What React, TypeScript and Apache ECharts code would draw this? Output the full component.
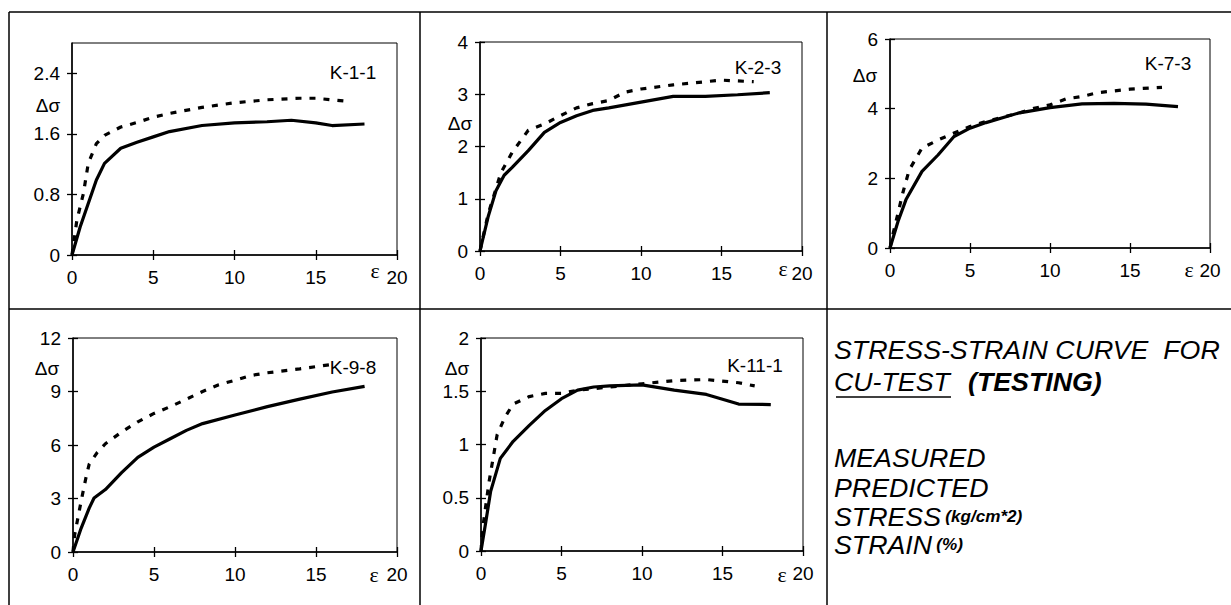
import React, { useEffect, useRef } from "react";
import * as echarts from "echarts";

// ---------- data ----------
const X_TICKS = [0, 5, 10, 15, 20];
const PANEL_NAMES = ["K-1-1", "K-2-3", "K-7-3", "K-9-8", "K-11-1"];
const Y_MAX = [2.8, 4, 6, 12, 2];
const Y_STEP = [0.8, 1, 2, 3, 0.5];
const Y_TICKS_1 = [0, 0.8, 1.6, 2.4];
const Y_TICKS_2 = [0, 1, 2, 3, 4];
const Y_TICKS_3 = [0, 2, 4, 6];
const Y_TICKS_4 = [0, 3, 6, 9, 12];
const Y_TICKS_5 = [0, 0.5, 1, 1.5, 2];

// K-1-1
const P1_MEAS_STRAIN = [0, 0.5, 1, 1.5, 2, 3, 4, 5, 6, 8, 10, 12, 13.5, 15, 16, 18];
const P1_MEAS_STRESS = [0, 0.37, 0.68, 0.99, 1.21, 1.41, 1.49, 1.56, 1.63, 1.71, 1.745, 1.76, 1.78, 1.745, 1.71, 1.73];
const P1_PRED_STRAIN = [0, 0.3, 0.7, 1, 1.5, 2, 3, 4, 5, 6, 8, 10, 12, 14, 15, 17];
const P1_PRED_STRESS = [0, 0.46, 0.81, 1.21, 1.47, 1.58, 1.69, 1.75, 1.82, 1.87, 1.95, 2.01, 2.05, 2.07, 2.07, 2.03];

// K-2-3
const P2_MEAS_STRAIN = [0, 0.5, 1, 1.5, 2, 3, 4, 5, 6, 7, 8, 10, 12, 14, 16, 18];
const P2_MEAS_STRESS = [0, 0.65, 1.16, 1.45, 1.6, 1.92, 2.27, 2.46, 2.59, 2.69, 2.74, 2.85, 2.96, 2.96, 2.99, 3.03];
const P2_PRED_STRAIN = [0, 0.5, 1, 1.3, 2, 3, 4, 5, 6, 7, 8, 9, 10, 12, 14, 15, 17];
const P2_PRED_STRESS = [0, 0.7, 1.2, 1.5, 1.89, 2.31, 2.43, 2.59, 2.74, 2.82, 2.88, 3.04, 3.1, 3.18, 3.24, 3.27, 3.24];

// K-7-3
const P3_MEAS_STRAIN = [0, 0.5, 1, 2, 3, 4, 5, 6, 8, 10, 12, 14, 16, 18];
const P3_MEAS_STRESS = [0, 0.76, 1.39, 2.2, 2.67, 3.2, 3.44, 3.6, 3.87, 4.03, 4.14, 4.15, 4.13, 4.06];
const P3_PRED_STRAIN = [0, 0.2, 0.5, 0.8, 1.2, 2, 3, 4, 5, 6, 8, 9, 10, 11, 12, 13, 14, 15, 17];
const P3_PRED_STRESS = [0, 0.43, 1.0, 1.58, 2.24, 2.87, 3.1, 3.3, 3.49, 3.63, 3.87, 4.01, 4.11, 4.28, 4.35, 4.46, 4.51, 4.56, 4.61];

// K-9-8
const P4_MEAS_STRAIN = [0, 0.5, 1, 1.3, 2, 3, 4, 5, 6, 7, 8, 10, 12, 14, 16, 18];
const P4_MEAS_STRESS = [0, 1.33, 2.46, 3.03, 3.5, 4.45, 5.31, 5.88, 6.35, 6.82, 7.2, 7.68, 8.15, 8.57, 8.97, 9.29];
const P4_PRED_STRAIN = [0, 0.1, 0.5, 0.8, 1, 1.5, 2, 3, 4, 5, 6, 7, 8, 9, 10, 11, 12, 14, 16];
const P4_PRED_STRESS = [0, 0.95, 2.84, 4.17, 4.93, 5.59, 6.07, 6.73, 7.3, 7.77, 8.15, 8.57, 9.0, 9.38, 9.63, 9.9, 10.05, 10.27, 10.52];

// K-11-1
const P5_MEAS_STRAIN = [0, 0.3, 0.6, 1.2, 2, 3, 4, 5, 6, 7, 8, 10, 12, 14, 16, 18];
const P5_MEAS_STRESS = [0, 0.275, 0.56, 0.87, 1.03, 1.18, 1.32, 1.43, 1.51, 1.54, 1.55, 1.56, 1.51, 1.47, 1.38, 1.375];
const P5_PRED_STRAIN = [0, 0.1, 0.5, 1, 1.5, 2, 3, 4, 5, 6, 8, 10, 12, 14, 16, 17];
const P5_PRED_STRESS = [0, 0.21, 0.65, 1.09, 1.26, 1.38, 1.45, 1.48, 1.48, 1.51, 1.54, 1.57, 1.6, 1.61, 1.58, 1.55];

const Y_TICKS = [Y_TICKS_1, Y_TICKS_2, Y_TICKS_3, Y_TICKS_4, Y_TICKS_5];
const MEAS = [
  [P1_MEAS_STRAIN, P1_MEAS_STRESS],
  [P2_MEAS_STRAIN, P2_MEAS_STRESS],
  [P3_MEAS_STRAIN, P3_MEAS_STRESS],
  [P4_MEAS_STRAIN, P4_MEAS_STRESS],
  [P5_MEAS_STRAIN, P5_MEAS_STRESS],
];
const PRED = [
  [P1_PRED_STRAIN, P1_PRED_STRESS],
  [P2_PRED_STRAIN, P2_PRED_STRESS],
  [P3_PRED_STRAIN, P3_PRED_STRESS],
  [P4_PRED_STRAIN, P4_PRED_STRESS],
  [P5_PRED_STRAIN, P5_PRED_STRESS],
];

const TITLE_1 = "STRESS-STRAIN CURVE  FOR";
const TITLE_2A = "CU-TEST";
const TITLE_2B = "(TESTING)";
const LEGEND_LINES = ["MEASURED", "PREDICTED"];
const STRESS_LABEL = "STRESS";
const STRESS_UNIT = "(kg/cm*2)";
const STRAIN_LABEL = "STRAIN";
const STRAIN_UNIT = "(%)";

// ---------- layout ----------
const FONT = "'Liberation Sans', Arial, sans-serif";
const GRIDS = [
  { left: 72, top: 43, width: 325, height: 212 },
  { left: 480, top: 42, width: 322, height: 209 },
  { left: 890, top: 39, width: 320, height: 209 },
  { left: 73, top: 338, width: 324, height: 214 },
  { left: 481, top: 338, width: 322, height: 213 },
];
const DS_POS = [
  [48, 105],
  [460, 123],
  [865, 75],
  [47, 368],
  [457, 368],
];
const NAME_POS = [
  [353, 72],
  [758, 67],
  [1168, 63],
  [353, 367],
  [755, 365],
];
const EPS_POS = [
  [375, 270],
  [783, 268],
  [1189, 269],
  [374, 574],
  [782, 574],
];

const zip = (a: number[], b: number[]) => a.map((v, i) => [v, b[i]]);

function buildOption() {
  const xAxis: any[] = [];
  const yAxis: any[] = [];
  const series: any[] = [];
  const axisLineStyle = { color: "#000", width: 1.5 };
  const tickStyle = { color: "#000", width: 1.3 };
  const label = { color: "#000", fontSize: 19, fontFamily: FONT };

  GRIDS.forEach((_, i) => {
    xAxis.push({
      gridIndex: i,
      type: "value",
      position: "bottom",
      min: 0,
      max: 20,
      interval: 5,
      axisLine: { show: true, onZero: false, lineStyle: axisLineStyle },
      axisTick: { show: true, inside: false, length: 5, lineStyle: tickStyle, customValues: X_TICKS },
      axisLabel: { ...label, margin: 13, customValues: X_TICKS },
      splitLine: { show: false },
    });
    xAxis.push({
      gridIndex: i,
      type: "value",
      position: "bottom",
      min: 0,
      max: 20,
      interval: 5,
      axisLine: { show: false, onZero: false },
      axisTick: { show: true, inside: true, length: 5, lineStyle: tickStyle, customValues: X_TICKS },
      axisLabel: { show: false },
      splitLine: { show: false },
    });
    yAxis.push({
      gridIndex: i,
      type: "value",
      position: "left",
      min: 0,
      max: Y_MAX[i],
      interval: Y_STEP[i],
      axisLine: { show: true, onZero: false, lineStyle: axisLineStyle },
      axisTick: { show: true, inside: false, length: 5, lineStyle: tickStyle, customValues: Y_TICKS[i] },
      axisLabel: { ...label, margin: 12, customValues: Y_TICKS[i] },
      splitLine: { show: false },
    });
    yAxis.push({
      gridIndex: i,
      type: "value",
      position: "left",
      min: 0,
      max: Y_MAX[i],
      interval: Y_STEP[i],
      axisLine: { show: false, onZero: false },
      axisTick: { show: true, inside: true, length: 5, lineStyle: tickStyle, customValues: Y_TICKS[i] },
      axisLabel: { show: false },
      splitLine: { show: false },
    });
    series.push({
      name: PANEL_NAMES[i] + " measured",
      type: "line",
      xAxisIndex: i * 2,
      yAxisIndex: i * 2,
      data: zip(MEAS[i][0], MEAS[i][1]),
      symbol: "none",
      lineStyle: { color: "#000", width: 3.2 },
      z: 3,
    });
    series.push({
      name: PANEL_NAMES[i] + " predicted",
      type: "line",
      xAxisIndex: i * 2,
      yAxisIndex: i * 2,
      data: zip(PRED[i][0], PRED[i][1]),
      symbol: "none",
      lineStyle: { color: "#000", width: 3.2, type: [6, 8], cap: "butt" },
      z: 2,
    });
  });

  const graphic: any[] = [];
  const frame = { stroke: "#000", lineWidth: 1.5 };
  const addLine = (x1: number, y1: number, x2: number, y2: number) =>
    graphic.push({ type: "line", shape: { x1, y1, x2, y2 }, style: frame, silent: true });
  addLine(9, 12, 1231, 12);
  addLine(9, 12, 9, 605);
  addLine(420, 12, 420, 605);
  addLine(827, 12, 827, 605);
  addLine(9, 309, 1231, 309);

  GRIDS.forEach((_, i) => {
    graphic.push({
      type: "text",
      x: DS_POS[i][0],
      y: DS_POS[i][1],
      style: { text: "Δσ", fontSize: 19, fontFamily: FONT, fill: "#000", align: "center", verticalAlign: "middle" },
    });
    graphic.push({
      type: "text",
      x: NAME_POS[i][0],
      y: NAME_POS[i][1],
      style: { text: PANEL_NAMES[i], fontSize: 19, fontFamily: FONT, fill: "#000", align: "center", verticalAlign: "middle" },
    });
    graphic.push({
      type: "text",
      x: EPS_POS[i][0],
      y: EPS_POS[i][1],
      style: { text: "ε", fontSize: 22, fontFamily: "'Liberation Serif', serif", fill: "#000", align: "center", verticalAlign: "middle" },
    });
  });

  const big = { fontSize: 25, fontFamily: FONT, fontStyle: "italic", fill: "#000", align: "left", verticalAlign: "middle" };
  const tx = 834;
  const sx = 1.07;
  graphic.push({ type: "text", x: tx, y: 350, scaleX: sx, style: { ...big, text: TITLE_1 } });
  graphic.push({ type: "text", x: tx, y: 382, scaleX: sx, style: { ...big, text: TITLE_2A } });
  graphic.push({ type: "text", x: 968, y: 382, scaleX: sx, style: { ...big, fontWeight: "bold", text: TITLE_2B } });
  graphic.push({ type: "line", shape: { x1: 836, y1: 397, x2: 951, y2: 397 }, style: { stroke: "#000", lineWidth: 1.5 } });
  graphic.push({ type: "text", x: tx, y: 458, scaleX: sx, style: { ...big, text: LEGEND_LINES[0] } });
  graphic.push({ type: "text", x: tx, y: 488, scaleX: sx, style: { ...big, text: LEGEND_LINES[1] } });
  const rich = {
    a: { fontSize: 25, fontFamily: FONT, fontStyle: "italic", fill: "#000" },
    b: { fontSize: 16, fontFamily: FONT, fontStyle: "italic", fontWeight: "bold", fill: "#000", padding: [0, 0, 0, 4] },
  };
  graphic.push({
    type: "text",
    x: tx,
    y: 517,
    scaleX: sx,
    style: { text: `{a|${STRESS_LABEL}}{b|${STRESS_UNIT}}`, rich, align: "left", verticalAlign: "middle" },
  });
  graphic.push({
    type: "text",
    x: tx,
    y: 545,
    scaleX: sx,
    style: { text: `{a|${STRAIN_LABEL}}{b|${STRAIN_UNIT}}`, rich, align: "left", verticalAlign: "middle" },
  });

  return {
    animation: false,
    backgroundColor: "#fff",
    grid: GRIDS.map((g) => ({ ...g, show: true, borderColor: "#000", borderWidth: 1, backgroundColor: "transparent", containLabel: false })),
    xAxis,
    yAxis,
    series,
    graphic,
  };
}

export default function App() {
  const ref = useRef<HTMLDivElement>(null);
  useEffect(() => {
    if (!ref.current) return;
    const chart = echarts.init(ref.current, null, { renderer: "svg" });
    chart.setOption(buildOption() as any);
    return () => chart.dispose();
  }, []);
  return (
    <div
      ref={ref}
      style={{ position: "absolute", left: 0, top: 0, width: 1231, height: 605, background: "#fff" }}
    />
  );
}
